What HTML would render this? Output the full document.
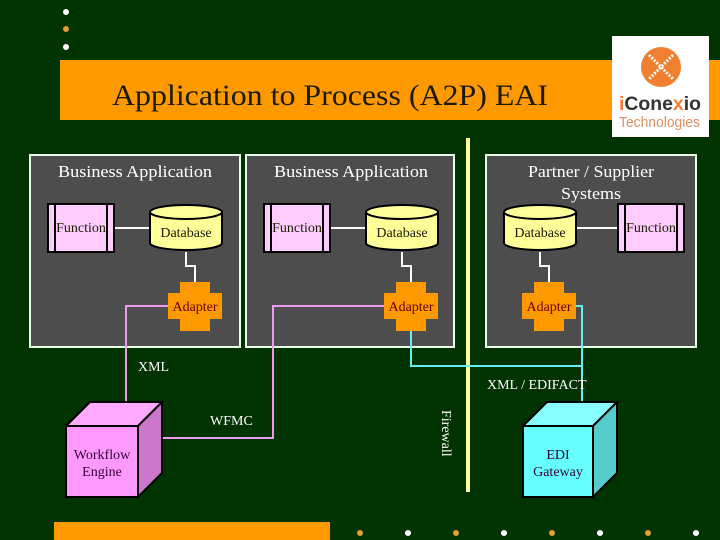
<!DOCTYPE html>
<html><head><meta charset="utf-8"><style>
html,body{margin:0;padding:0;background:#003300;}
svg{display:block;}
text{font-family:"Liberation Serif",serif;}
text.sans{font-family:"Liberation Sans",sans-serif;}
</style></head><body>
<svg width="720" height="540" viewBox="0 0 720 540" xmlns="http://www.w3.org/2000/svg">
<rect width="720" height="540" fill="#003300"/>
<circle cx="66" cy="12" r="3" fill="#fff"/>
<circle cx="66" cy="29" r="3" fill="#e0a030"/>
<circle cx="66" cy="47" r="3" fill="#fff"/>
<rect x="60" y="60" width="660" height="60" fill="#ff9900"/>
<text x="112" y="105" font-size="30" fill="#1a1a00" textLength="436" lengthAdjust="spacingAndGlyphs">Application to Process (A2P) EAI</text>
<rect x="612" y="36" width="97" height="101" fill="#fff"/>
<circle cx="661" cy="67" r="20" fill="#f08030"/>
<path d="M649 55 L673 79 M673 55 L649 79" stroke="#fff" stroke-width="3" stroke-dasharray="2 1.5"/>
<text class="sans" x="619" y="110" font-size="19" font-weight="bold" fill="#333" textLength="82" lengthAdjust="spacingAndGlyphs"><tspan fill="#f08030">i</tspan>Cone<tspan fill="#f08030">x</tspan>io</text>
<text class="sans" x="619" y="127" font-size="15" fill="#e09060" textLength="81" lengthAdjust="spacingAndGlyphs">Technologies</text>
<rect x="466" y="138" width="4" height="354" fill="#ffff99"/>
<g fill="#4d4d4d" stroke="#e8ffe8" stroke-width="2">
<rect x="30" y="155" width="210" height="192"/>
<rect x="246" y="155" width="208" height="192"/>
<rect x="486" y="155" width="210" height="192"/>
</g>
<g font-size="17" fill="#fff">
<text x="58" y="177" textLength="154" lengthAdjust="spacingAndGlyphs">Business Application</text>
<text x="274" y="177" textLength="154" lengthAdjust="spacingAndGlyphs">Business Application</text>
<text x="528" y="177" textLength="126" lengthAdjust="spacingAndGlyphs">Partner / Supplier</text>
<text x="561" y="199" textLength="60" lengthAdjust="spacingAndGlyphs">Systems</text>
</g>
<g stroke="#fff" stroke-width="2" fill="none">
<line x1="114" y1="228" x2="150" y2="228"/>
<line x1="330" y1="228" x2="366" y2="228"/>
<line x1="575" y1="228" x2="618" y2="228"/>
<path d="M186 252 V266 H195 V282"/>
<path d="M402 252 V266 H411 V282"/>
<path d="M540 252 V266 H549 V282"/>
</g>
<g stroke="#000" stroke-width="2" fill="#ffccff">
<rect x="48" y="204" width="66" height="48"/><line x1="55" y1="204" x2="55" y2="252"/><line x1="107" y1="204" x2="107" y2="252"/>
<rect x="264" y="204" width="66" height="48"/><line x1="271" y1="204" x2="271" y2="252"/><line x1="323" y1="204" x2="323" y2="252"/>
<rect x="618" y="204" width="66" height="48"/><line x1="625" y1="204" x2="625" y2="252"/><line x1="677" y1="204" x2="677" y2="252"/>
</g>
<g stroke="#000" stroke-width="2" fill="#ffff99">
<path d="M150 212 V243 A36 7 0 0 0 222 243 V212"/><ellipse cx="186" cy="212" rx="36" ry="7"/>
<path d="M366 212 V243 A36 7 0 0 0 438 243 V212"/><ellipse cx="402" cy="212" rx="36" ry="7"/>
<path d="M504 212 V243 A36 7 0 0 0 576 243 V212"/><ellipse cx="540" cy="212" rx="36" ry="7"/>
</g>
<g font-size="14" fill="#1a1a00" text-anchor="middle">
<text x="81" y="232">Function</text><text x="297" y="232">Function</text><text x="651" y="232">Function</text>
<text x="186" y="237">Database</text><text x="402" y="237">Database</text><text x="540" y="237">Database</text>
</g>
<g fill="#ff9900">
<path d="M180 282 H210 V293 H222 V319 H210 V331 H180 V319 H168 V293 H180 Z"/>
<path d="M396 282 H426 V293 H438 V319 H426 V331 H396 V319 H384 V293 H396 Z"/>
<path d="M534 282 H564 V293 H576 V319 H564 V331 H534 V319 H522 V293 H534 Z"/>
</g>
<g font-size="14" fill="#660000" text-anchor="middle">
<text x="195" y="311">Adapter</text><text x="411" y="311">Adapter</text><text x="549" y="311">Adapter</text>
</g>
<g stroke="#ee99ee" stroke-width="2" fill="none">
<path d="M168 306 H126 V402"/>
<path d="M384 306 H273 V438 H162"/>
</g>
<g stroke="#66eeee" stroke-width="2" fill="none">
<path d="M411 331 V366 H582"/>
<path d="M576 306 H582 V402"/>
</g>
<g fill="#fff" font-size="14">
<text x="138" y="371">XML</text>
<text x="487" y="389">XML / EDIFACT</text>
<text x="210" y="425">WFMC</text>
<text transform="translate(442,410) rotate(90)" font-size="14">Firewall</text>
</g>
<g stroke="#000" stroke-width="2">
<polygon points="66,426 90,402 162,402 138,426" fill="#ffaaff"/>
<polygon points="138,426 162,402 162,473 138,497" fill="#cc77cc"/>
<rect x="66" y="426" width="72" height="71" fill="#ff99ff"/>
<polygon points="523,426 547,402 617,402 593,426" fill="#88ffff"/>
<polygon points="593,426 617,402 617,473 593,497" fill="#55cccc"/>
<rect x="523" y="426" width="70" height="71" fill="#66ffff"/>
</g>
<g font-size="14" fill="#330033" text-anchor="middle">
<text x="102" y="459">Workflow</text><text x="102" y="476">Engine</text>
<text x="558" y="459">EDI</text><text x="558" y="476">Gateway</text>
</g>
<rect x="54" y="522" width="276" height="18" fill="#ff9900"/>
<g>
<circle cx="360" cy="533" r="3" fill="#e0a030"/><circle cx="408" cy="533" r="3" fill="#fff"/>
<circle cx="456" cy="533" r="3" fill="#e0a030"/><circle cx="504" cy="533" r="3" fill="#fff"/>
<circle cx="552" cy="533" r="3" fill="#e0a030"/><circle cx="600" cy="533" r="3" fill="#fff"/>
<circle cx="648" cy="533" r="3" fill="#e0a030"/><circle cx="696" cy="533" r="3" fill="#fff"/>
</g>
</svg>
</body></html>
